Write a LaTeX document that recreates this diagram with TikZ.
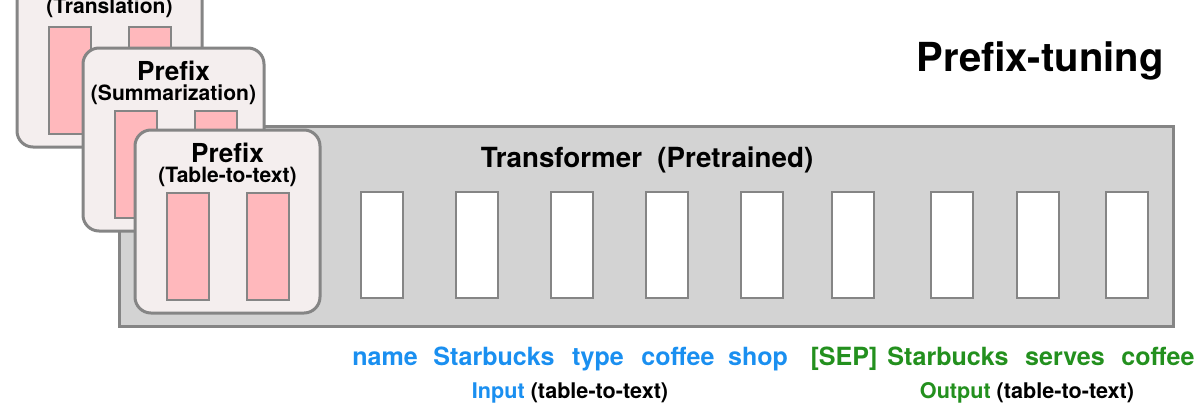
\documentclass[tikz,border=0pt]{standalone}
\usepackage{fontspec}
\setmainfont{TeX Gyre Heros}
\definecolor{edgegray}{HTML}{858585}
\definecolor{tfill}{HTML}{D3D3D3}
\definecolor{pfill}{HTML}{F4EEEE}
\definecolor{barpink}{HTML}{FFB8BC}
\definecolor{inblue}{HTML}{1A8FF0}
\definecolor{outgreen}{HTML}{23901E}
\begin{document}
\begin{tikzpicture}[x=0.75pt,y=-0.75pt,
  tbox/.style={draw=edgegray,fill=tfill,line width=2.25pt,inner sep=0pt,outer sep=0pt,anchor=north west,minimum width=790.5pt,minimum height=150pt},
  pbox/.style={draw=edgegray,fill=pfill,line width=2.25pt,rounded corners=12pt,inner sep=0pt,outer sep=0pt,anchor=north west,minimum height=137.25pt},
  pbar/.style={draw=edgegray,fill=barpink,line width=1.5pt,inner sep=0pt,outer sep=0pt,anchor=north west,minimum width=31.5pt,minimum height=80pt},
  wbar/.style={draw=edgegray,fill=white,line width=1.5pt,inner sep=0pt,outer sep=0pt,anchor=north west,minimum width=31.5pt,minimum height=79.5pt},
  ptitle/.style={font=\bfseries\fontsize{19.6}{21}\selectfont,anchor=base,inner sep=0pt},
  psub/.style={font=\bfseries\fontsize{15.8}{17}\selectfont,anchor=base,inner sep=0pt},
  word/.style={font=\bfseries\fontsize{18.8}{20}\selectfont,anchor=base,inner sep=0pt},
  captext/.style={font=\bfseries\fontsize{16.2}{18}\selectfont,anchor=base,inner sep=0pt}]
\useasboundingbox (0,0) rectangle (1201,404);
% transformer
\node[tbox] (trf) at (119,126) {};
\node[font=\bfseries\fontsize{20.8}{23}\selectfont,anchor=base,inner sep=0pt] (trftitle) at (647,167) {Transformer\ \ (Pretrained)};
\foreach \x [count=\i] in {361,456,551,646,741,832,931,1017,1106}
  \node[wbar] (w\i) at (\x,192) {};
% prefix boxes
\foreach \bx/\by/\bw/\lab/\nm/\dy in {17/-36/185/Translation/tr/-3,83/48/181/Summarization/su/0,135/130/185/Table-to-text/tt/0}{
  \node[pbox,minimum width={\bw*0.75pt}] (\nm) at (\bx,\by) {};
  \node[pbar] (\nm a) at ({\bx+32},{\by+63}) {};
  \node[pbar] (\nm b) at ({\bx+112},{\by+63}) {};
  \node[ptitle] (\nm t) at ({\bx+\bw/2},{\by+32+\dy}) {Prefix};
  \node[psub] (\nm s) at ({\bx+\bw/2},{\by+52+\dy}) {(\lab)};
}
% title
\node[font=\bfseries\fontsize{30}{33}\selectfont,anchor=base,inner sep=0pt] (title) at (1040,71) {Prefix-tuning};
% words
\foreach \x/\t [count=\i] in {385/name,494/Starbucks,598/type,678/coffee,758/shop}
  \node[word,text=inblue] (in\i) at (\x,365) {\t};
\foreach \x/\t [count=\i] in {844/{[SEP]},948/Starbucks,1065/serves,1158/coffee}
  \node[word,text=outgreen] (out\i) at (\x,365) {\t};
\node[captext] (incap) at (570,398) {\textcolor{inblue}{Input} (table-to-text)};
\node[captext] (outcap) at (1027,398) {\textcolor{outgreen}{Output} (table-to-text)};
\end{tikzpicture}
\end{document}
